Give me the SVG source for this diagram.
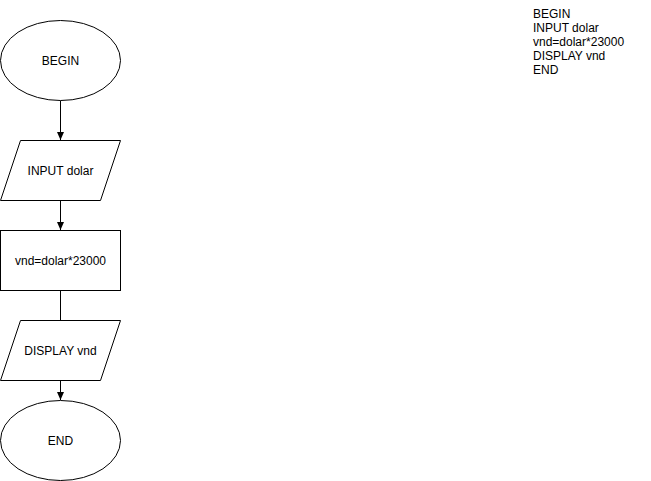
<svg xmlns="http://www.w3.org/2000/svg" width="651" height="481" viewBox="0 0 651 481">
<style>
.s{fill:#fff;stroke:#000;stroke-width:1}
.t{font-family:"Liberation Sans",Arial,sans-serif;font-size:12px;fill:#000}
.c{text-anchor:middle}
.e{fill:none;stroke:#000;stroke-width:1}
</style>
<defs>
<marker id="a" markerWidth="8" markerHeight="8" viewBox="0 0 8 8" refX="8" refY="4" orient="auto" markerUnits="userSpaceOnUse">
<path d="M0,0.5 L8,4 L0,7.5 Z" fill="#000"/>
</marker>
</defs>
<rect width="651" height="481" fill="#fff"/>
<g id="connectors">
<path class="e" d="M60.5,100.5 V140" marker-end="url(#a)"/>
<path class="e" d="M60.5,200.5 V230" marker-end="url(#a)"/>
<path class="e" d="M60.5,290.5 V320.5"/>
<path class="e" d="M60.5,380.5 V400" marker-end="url(#a)"/>
</g>
<g id="begin">
<ellipse class="s" cx="60.5" cy="60.5" rx="60" ry="40"/>
<text class="t c" x="60.5" y="64.5">BEGIN</text>
</g>
<g id="input">
<path class="s" d="M20.5,140.5 H120.5 L100.5,200.5 H0.5 Z"/>
<text class="t c" x="60.5" y="174.5">INPUT dolar</text>
</g>
<g id="process">
<rect class="s" x="0.5" y="230.5" width="120" height="60"/>
<text class="t c" x="60.5" y="264.5">vnd=dolar*23000</text>
</g>
<g id="display">
<path class="s" d="M20.5,320.5 H120.5 L100.5,380.5 H0.5 Z"/>
<text class="t c" x="60.5" y="354.5">DISPLAY vnd</text>
</g>
<g id="end">
<ellipse class="s" cx="60.5" cy="440.5" rx="60" ry="40"/>
<text class="t c" x="60.5" y="444.5">END</text>
</g>
<g id="note">
<text class="t" x="533" y="17.5">BEGIN</text>
<text class="t" x="533" y="31.5">INPUT dolar</text>
<text class="t" x="533" y="45.5">vnd=dolar*23000</text>
<text class="t" x="533" y="59.5">DISPLAY vnd</text>
<text class="t" x="533" y="73.5">END</text>
</g>
</svg>
